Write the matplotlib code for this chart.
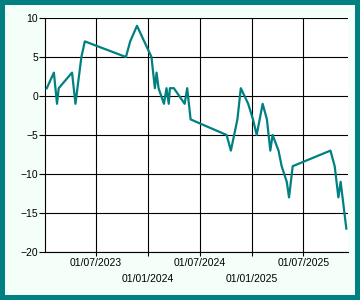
import matplotlib
matplotlib.use("Agg")
import matplotlib.pyplot as plt
import matplotlib.dates as mdates
import pandas as pd

dates = ["2023-01-09", "2023-02-03", "2023-02-14", "2023-02-20", "2023-04-08",
         "2023-04-20", "2023-05-11", "2023-05-23", "2023-10-15", "2023-10-30",
         "2023-11-23", "2024-01-13", "2024-01-25", "2024-01-31", "2024-02-07",
         "2024-02-26", "2024-03-06", "2024-03-14", "2024-03-18", "2024-04-01",
         "2024-05-09", "2024-05-18", "2024-05-30", "2024-10-04", "2024-10-19",
         "2024-11-11", "2024-11-23", "2024-12-19", "2025-01-05", "2025-01-18",
         "2025-02-08", "2025-02-23", "2025-03-07", "2025-03-15", "2025-04-05",
         "2025-04-16", "2025-05-04", "2025-05-12", "2025-05-25", "2025-10-05",
         "2025-10-20", "2025-11-02", "2025-11-10", "2025-11-30"]
values = [1, 3, -1, 1, 3,
          -1, 5, 7, 5, 7,
          9, 5, 1, 3, 1,
          -1, 1, -1, 1, 1,
          -1, 1, -3, -5, -7,
          -3, 1, -1, -3, -5,
          -1, -3, -7, -5, -7,
          -9, -11, -13, -9, -7,
          -9, -13, -11, -17]
y_ticks = [-20, -15, -10, -5, 0, 5, 10]

x = pd.to_datetime(dates)

plt.rcParams["font.family"] = ["Liberation Sans", "DejaVu Sans"]
plt.rcParams["font.size"] = 7.5

fig = plt.figure(figsize=(3.6, 3.0), dpi=100, facecolor="#F5FFFA",
                 edgecolor="#008080", linewidth=6)
ax = fig.add_axes([0.125, 0.16, 0.842, 0.78])
ax.set_facecolor("white")

ax.plot(x, values, color="#008080", lw=1.6, zorder=3)

ax.set_ylim(-20, 10)
ax.set_yticks(y_ticks)
ax.margins(x=0.006)

ax.xaxis.set_major_locator(mdates.MonthLocator(bymonth=7))
ax.xaxis.set_minor_locator(mdates.MonthLocator(bymonth=1))
fmt = mdates.DateFormatter("%d/%m/%Y")
ax.xaxis.set_major_formatter(fmt)
ax.xaxis.set_minor_formatter(fmt)

ax.grid(which="both", color="black", lw=0.8)
ax.set_axisbelow(True)
for s in ["top", "right"]:
    ax.spines[s].set_visible(False)
ax.spines["left"].set_linewidth(0.8)
ax.spines["bottom"].set_linewidth(0.8)

ax.tick_params(axis="y", length=4, width=0.8, pad=1)
ax.tick_params(axis="x", which="major", length=3, width=0.8, pad=1.5)
ax.tick_params(axis="x", which="minor", length=3, width=0.8, pad=13)

fig.savefig("out.png", dpi=100, facecolor=fig.get_facecolor(),
            edgecolor=fig.get_edgecolor())
